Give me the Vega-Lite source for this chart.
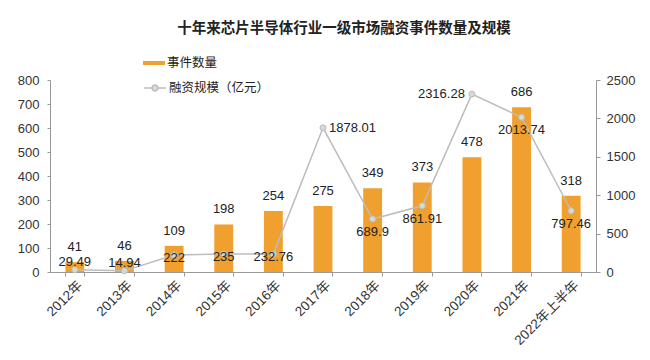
{
  "$schema": "https://vega.github.io/schema/vega-lite/v6.json",
  "width": 546,
  "height": 192,
  "autosize": {"type": "none"},
  "padding": {"left": 50, "top": 80, "right": 54, "bottom": 88},
  "background": "white",
  "config": {
    "font": "Liberation Sans",
    "view": {"stroke": null},
    "axis": {"labelFontSize": 13, "labelColor": "#333", "domainColor": "#999", "tickColor": "#999", "tickSize": 4, "grid": false, "labelFont": "Liberation Sans", "labelOverlap": false},
    "legend": {"padding": 0}
  },
  "title": {"text": "十年来芯片半导体行业一级市场融资事件数量及规模", "font": "Noto Sans CJK SC", "fontSize": 14.5, "fontWeight": "bold", "color": "#222", "frame": "group", "anchor": "middle", "offset": 16, "dx": 21},
  "data": {"values": [
    {"year": "2012年", "count": 41, "amount": 29.49},
    {"year": "2013年", "count": 46, "amount": 14.94},
    {"year": "2014年", "count": 109, "amount": 222},
    {"year": "2015年", "count": 198, "amount": 235},
    {"year": "2016年", "count": 254, "amount": 232.76},
    {"year": "2017年", "count": 275, "amount": 1878.01},
    {"year": "2018年", "count": 349, "amount": 689.9},
    {"year": "2019年", "count": 373, "amount": 861.91},
    {"year": "2020年", "count": 478, "amount": 2316.28},
    {"year": "2021年", "count": 686, "amount": 2013.74},
    {"year": "2022年上半年", "count": 318, "amount": 797.46}
  ]},
  "encoding": {
    "x": {"field": "year", "type": "nominal", "sort": null, "title": null,
      "scale": {"paddingInner": 0.62, "paddingOuter": 0.31},
      "axis": {"labelAngle": -45, "labelAlign": "right", "labelBaseline": "top", "tickBand": "extent", "labelFont": "Liberation Sans, 'Noto Sans CJK SC'", "labelFontSize": 13.5, "labelPadding": 2}}
  },
  "layer": [
    {
      "encoding": {
        "y": {"field": "count", "type": "quantitative", "title": null,
          "scale": {"domain": [0, 800]},
          "axis": {"values": [0,100,200,300,400,500,600,700,800], "format": "d", "tickSize": 3, "labelPadding": 8}}
      },
      "layer": [
        {
          "mark": {"type": "bar", "color": "#F0A02E"},
          "encoding": {
            "fill": {"datum": "事件数量", "type": "nominal",
              "scale": {"range": ["#F0A02E"]},
              "legend": {"title": null, "orient": "none", "legendX": 93, "legendY": -28, "symbolType": "M-1,-0.18H1V0.18H-1Z", "symbolSize": 484, "symbolStrokeWidth": 0, "labelFont": "Noto Sans CJK SC", "labelFontSize": 12.5, "labelColor": "#222", "labelOffset": 2}}
          }
        },
        {
          "mark": {"type": "text", "fontSize": 13, "color": "#222", "baseline": "bottom", "dy": -8},
          "encoding": {"text": {"field": "count"}}
        }
      ]
    },
    {
      "encoding": {
        "y": {"field": "amount", "type": "quantitative", "title": null,
          "scale": {"domain": [0, 2500]},
          "axis": {"orient": "right", "values": [0,500,1000,1500,2000,2500], "format": "d", "labelPadding": 6}}
      },
      "layer": [
        {
          "mark": {"type": "line", "color": "#BDBDBD", "strokeWidth": 1.5,
            "point": {"filled": true, "fill": "#D3DBD3", "stroke": "#B0B8B0", "strokeWidth": 1, "size": 36}},
          "encoding": {
            "stroke": {"datum": "融资规模（亿元）", "type": "nominal",
              "scale": {"range": ["#BDBDBD"]},
              "legend": {"title": null, "orient": "none", "legendX": 93, "legendY": -4, "symbolType": "M-1,0H-0.27M0.27,0H1M0.27,0A0.27,0.27 0 1,1 -0.27,0A0.27,0.27 0 1,1 0.27,0Z", "symbolSize": 484, "symbolFillColor": "#D3DBD3", "symbolStrokeWidth": 1.5, "labelFont": "Noto Sans CJK SC", "labelFontSize": 12.5, "labelColor": "#222", "labelOffset": 2}}
          }
        },
        {
          "transform": [{"filter": "indexof(['2012年','2013年'], datum.year) >= 0"}],
          "mark": {"type": "text", "fontSize": 13, "color": "#222", "dy": -8},
          "encoding": {"text": {"field": "amount"}}
        },
        {
          "transform": [{"filter": "indexof(['2014年','2015年','2016年'], datum.year) >= 0"}],
          "mark": {"type": "text", "fontSize": 13, "color": "#222", "dy": 3},
          "encoding": {"text": {"field": "amount"}}
        },
        {
          "transform": [{"filter": "indexof(['2018年','2019年','2021年','2022年上半年'], datum.year) >= 0"}],
          "mark": {"type": "text", "fontSize": 13, "color": "#222", "dy": 13},
          "encoding": {"text": {"field": "amount"}}
        },
        {
          "transform": [{"filter": "datum.year == '2017年'"}],
          "mark": {"type": "text", "fontSize": 13, "color": "#222", "align": "left", "dx": 6},
          "encoding": {"text": {"field": "amount"}}
        },
        {
          "transform": [{"filter": "datum.year == '2020年'"}],
          "mark": {"type": "text", "fontSize": 13, "color": "#222", "align": "right", "dx": -7},
          "encoding": {"text": {"field": "amount"}}
        }
      ]
    }
  ],
  "resolve": {"scale": {"y": "independent"}}
}
